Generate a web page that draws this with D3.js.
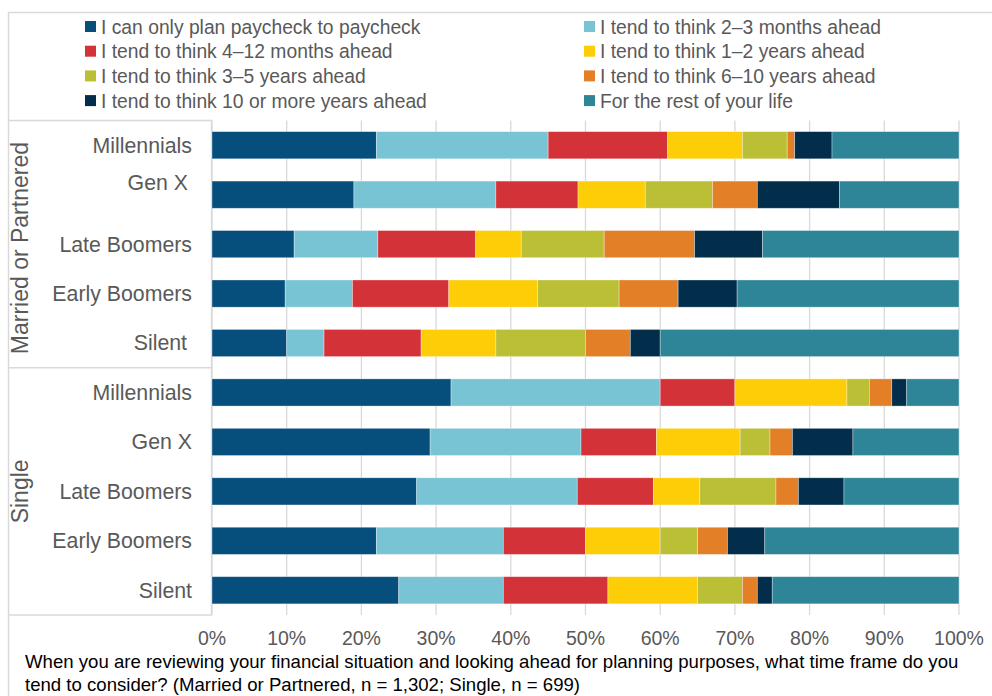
<!DOCTYPE html>
<html><head><meta charset="utf-8">
<script src="https://cdn.jsdelivr.net/npm/d3@7"></script>
<style>body{margin:0;background:#fff}svg{display:block}text{font-family:"Liberation Sans",Arial,sans-serif}</style>
</head><body><svg id="c" width="992" height="696"></svg>
<script>
const seriesNames = ["I can only plan paycheck to paycheck","I tend to think 2\u20133 months ahead","I tend to think 4\u201312 months ahead","I tend to think 1\u20132 years ahead","I tend to think 3\u20135 years ahead","I tend to think 6\u201310 years ahead","I tend to think 10 or more years ahead","For the rest of your life"];
const colors = ["#064E7C","#78C4D4","#D43239","#FDCD07","#BBBF35","#E27F27","#022E4C","#2E8597"];
const groups = ["Married or Partnered","Single"];
const categories = ["Millennials","Gen X","Late Boomers","Early Boomers","Silent"];
const marriedValues = [
  [22,23,16,10,6,1,5,17],
  [19,19,11,9,9,6,11,16],
  [11,11.2,13.1,6.1,11.1,12.1,9.1,26.3],
  [9.8,9,12.9,11.9,10.9,7.9,7.9,29.7],
  [10,5,13,10,12,6,4,40]
];
const singleValues = [
  [32,28,10,15,3,3,2,7],
  [29.2,20.2,10.1,11.2,4,3,8.1,14.2],
  [27.4,21.5,10.2,6.2,10.2,3,6.1,15.4],
  [22,17,11,10,5,4,5,26],
  [25,14,14,12,6,2,2,25]
];
const ticks = [0,10,20,30,40,50,60,70,80,90,100];
const caption = ["When you are reviewing your financial situation and looking ahead for planning purposes, what time frame do you","tend to consider? (Married or Partnered, n = 1,302; Single, n = 699)"];

const rows = [];
groups.forEach((g,gi)=>{
  const vals = gi===0?marriedValues:singleValues;
  categories.forEach((c,ci)=>rows.push({key:g+"|"+c,group:g,cat:c,vals:vals[ci],gi,ci}));
});

const svg = d3.select("#c");
const x = d3.scaleLinear().domain([0,100]).range([212,959]);
const y = d3.scaleBand().domain(rows.map(r=>r.key)).range([120.5,615]).paddingInner(0.45).paddingOuter(0.225);
const textCol = "#595959", lineCol = "#D9D9D9";

// outer frame
svg.append("path").attr("d","M8.5,696V12.5H992").attr("fill","none").attr("stroke",lineCol).attr("stroke-width",1.5);
// gridlines
svg.append("g").selectAll("line").data(ticks).join("line")
  .attr("x1",d=>x(d)).attr("x2",d=>x(d)).attr("y1",120.5).attr("y2",615)
  .attr("stroke",lineCol).attr("stroke-width",1.3);
// label box
const sepY = (y(rows[4].key)+y(rows[5].key)+y.bandwidth())/2;
svg.append("path").attr("d",`M8.5,120.5H211.5V615H8.5M8.5,${sepY}H211.5`).attr("fill","none").attr("stroke",lineCol).attr("stroke-width",1.3);

// bars
const stack = rows.map(r=>{let c=0;return r.vals.map((v,i)=>{const s={x0:c,x1:c+v,i,key:r.key};c+=v;return s;});}).flat();
svg.append("g").selectAll("rect").data(stack).join("rect")
  .attr("x",d=>x(d.x0)).attr("width",d=>x(d.x1)-x(d.x0))
  .attr("y",d=>y(d.key)).attr("height",y.bandwidth())
  .attr("fill",d=>colors[d.i]).attr("stroke","rgba(255,255,255,0.45)").attr("stroke-width",0.75);

// category labels
const catLabelFix = {"Married or Partnered|Gen X":{dx:-4,dy:-12},"Married or Partnered|Silent":{dx:-5,dy:0}};
svg.append("g").selectAll("text").data(rows).join("text")
  .attr("x",r=>192+((catLabelFix[r.key]||{}).dx||0))
  .attr("y",r=>y(r.key)+y.bandwidth()/2+((catLabelFix[r.key]||{}).dy||0))
  .attr("dy","0.35em").attr("text-anchor","end").attr("font-size",21.3).attr("fill",textCol)
  .text(r=>r.cat);
// group labels
groups.forEach((g,gi)=>{
  const cy = ((gi===0?120.5:sepY)+(gi===0?sepY:615))/2 + (gi===0?4:0);
  svg.append("text").attr("transform",`translate(28,${cy}) rotate(-90)`).attr("text-anchor","middle")
    .attr("font-size",23).attr("fill",textCol).text(g);
});
// x axis labels
svg.append("g").selectAll("text").data(ticks).join("text")
  .attr("x",d=>x(d)).attr("y",645).attr("text-anchor","middle")
  .attr("font-size",19.5).attr("fill",textCol).text(d=>d+"%");
// legend
const lg = svg.append("g").selectAll("g").data(seriesNames).join("g")
  .attr("transform",(d,i)=>`translate(${i%2===0?85:584},${27+Math.floor(i/2)*24.7})`);
lg.append("rect").attr("x",0).attr("y",-6).attr("width",11).attr("height",11).attr("fill",(d,i)=>colors[i]);
lg.append("text").attr("x",16).attr("dy","0.35em").attr("font-size",19.3).attr("fill",textCol).text(d=>d);
// caption
svg.append("g").selectAll("text").data(caption).join("text")
  .attr("x",25).attr("y",(d,i)=>668+i*22.5).attr("font-size",18.6).attr("fill","#000").text(d=>d);
</script></body></html>
